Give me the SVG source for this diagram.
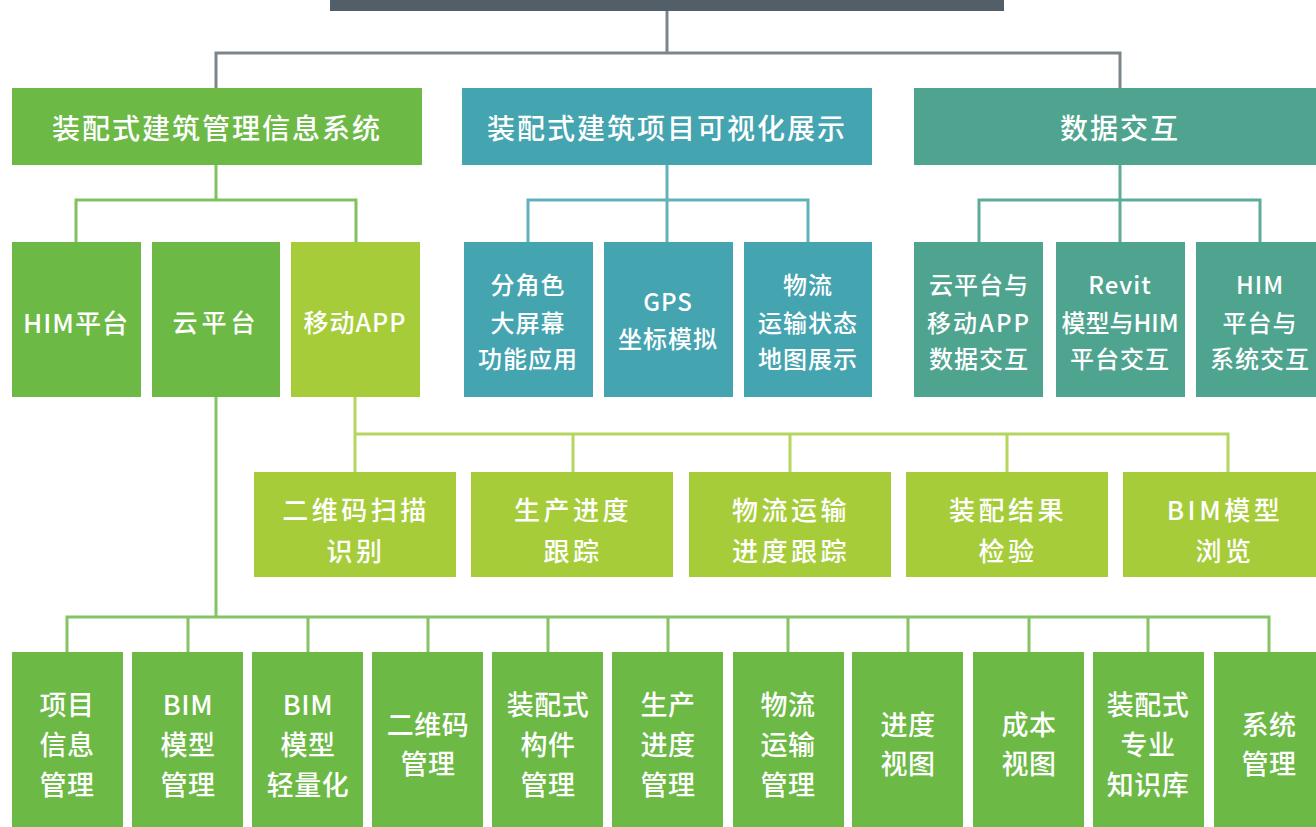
<svg xmlns="http://www.w3.org/2000/svg" width="1316" height="827" viewBox="0 0 1316 827">
<style>
.g{fill:#6cb945}.y{fill:#a6cd39}.t{fill:#44a4b0}.s{fill:#4ea48f}
text{font-family:"Noto Sans CJK SC","Noto Sans",sans-serif;font-weight:500;fill:#fff;text-anchor:middle;dominant-baseline:central}
.h{font-size:28px;letter-spacing:2px}
.m{font-size:24px;letter-spacing:1px}
.r3{font-size:26px;letter-spacing:3.5px}
.b{font-size:27px;letter-spacing:0.5px}
.c{fill:none;stroke-width:3}
</style>
<rect x="0" y="0" width="1316" height="827" fill="#fff"/>
<g id="connectors">
<path class="c" stroke="#7b858c" d="M667 11V53M216 88V53H1120V88"/>
<path class="c" stroke="#80c160" d="M216 165V200M76 242V200H356V242"/>
<path class="c" stroke="#62b2bc" d="M667 165V242M528 242V200H808V242"/>
<path class="c" stroke="#5eab97" d="M1120 165V242M979 242V200H1260V242"/>
<path class="c" stroke="#b6d55e" d="M355 397V472M355 434H1228V472M573 434V472M790 434V472M1007 434V472"/>
<path class="c" stroke="#84c366" d="M216 397V617M67 652V617H1269V652M188 617V652M308 617V652M428 617V652M548 617V652M668 617V652M788 617V652M908 617V652M1029 617V652M1148 617V652"/>
</g>
<g id="root"><rect x="330" y="0" width="674" height="11" fill="#525f68"/></g>
<g id="n1"><rect class="g" x="12" y="88" width="410" height="77"/><text class="h" x="217" y="127">装配式建筑管理信息系统</text></g>
<g id="n2"><rect class="t" x="462" y="88" width="410" height="77"/><text class="h" x="667" y="127">装配式建筑项目可视化展示</text></g>
<g id="n3"><rect class="s" x="914" y="88" width="412" height="77"/><text class="h" x="1120" y="127">数据交互</text></g>
<g id="him"><rect class="g" x="12" y="242" width="129" height="155"/><text class="m" x="76" y="321" style="font-size:26px">HIM平台</text></g>
<g id="cloud"><rect class="g" x="152" y="242" width="128" height="155"/><text class="m" x="216" y="321" style="font-size:25px;letter-spacing:4px">云平台</text></g>
<g id="app"><rect class="y" x="291" y="242" width="129" height="155"/><text class="m" x="355" y="321" style="font-size:25px">移动APP</text></g>
<g id="t1"><rect class="t" x="464" y="242" width="129" height="155"/><text class="m" x="528" y="283">分角色</text><text class="m" x="528" y="321">大屏幕</text><text class="m" x="528" y="357">功能应用</text></g>
<g id="t2"><rect class="t" x="604" y="242" width="129" height="155"/><text class="m" x="668" y="300">GPS</text><text class="m" x="668" y="337">坐标模拟</text></g>
<g id="t3"><rect class="t" x="744" y="242" width="128" height="155"/><text class="m" x="808" y="283">物流</text><text class="m" x="808" y="321">运输状态</text><text class="m" x="808" y="357">地图展示</text></g>
<g id="d1"><rect class="s" x="914" y="242" width="129" height="155"/><text class="m" x="979" y="283">云平台与</text><text class="m" x="979" y="321" style="letter-spacing:2px">移动APP</text><text class="m" x="979" y="357">数据交互</text></g>
<g id="d2"><rect class="s" x="1056" y="242" width="129" height="155"/><text class="m" x="1120" y="283">Revit</text><text class="m" x="1120" y="321" style="letter-spacing:0">模型与HIM</text><text class="m" x="1120" y="357">平台交互</text></g>
<g id="d3"><rect class="s" x="1196" y="242" width="129" height="155"/><text class="m" x="1260" y="283">HIM</text><text class="m" x="1260" y="321">平台与</text><text class="m" x="1260" y="357">系统交互</text></g>
<g id="a1"><rect class="y" x="254" y="472" width="202" height="105"/><text class="r3" x="356" y="508">二维码扫描</text><text class="r3" x="356" y="549">识别</text></g>
<g id="a2"><rect class="y" x="471" y="472" width="202" height="105"/><text class="r3" x="573" y="508">生产进度</text><text class="r3" x="573" y="549">跟踪</text></g>
<g id="a3"><rect class="y" x="689" y="472" width="202" height="105"/><text class="r3" x="791" y="508">物流运输</text><text class="r3" x="791" y="549">进度跟踪</text></g>
<g id="a4"><rect class="y" x="906" y="472" width="202" height="105"/><text class="r3" x="1008" y="508">装配结果</text><text class="r3" x="1008" y="549">检验</text></g>
<g id="a5"><rect class="y" x="1123" y="472" width="202" height="105"/><text class="r3" x="1225" y="508">BIM模型</text><text class="r3" x="1225" y="549">浏览</text></g>
<g id="b1"><rect class="g" x="12" y="652" width="111" height="180"/><text class="b" x="67" y="703">项目</text><text class="b" x="67" y="743">信息</text><text class="b" x="67" y="783">管理</text></g>
<g id="b2"><rect class="g" x="132" y="652" width="111" height="180"/><text class="b" x="188" y="703">BIM</text><text class="b" x="188" y="743">模型</text><text class="b" x="188" y="783">管理</text></g>
<g id="b3"><rect class="g" x="252" y="652" width="111" height="180"/><text class="b" x="308" y="703">BIM</text><text class="b" x="308" y="743">模型</text><text class="b" x="308" y="783">轻量化</text></g>
<g id="b4"><rect class="g" x="372" y="652" width="111" height="180"/><text class="b" x="428" y="723">二维码</text><text class="b" x="428" y="762">管理</text></g>
<g id="b5"><rect class="g" x="492" y="652" width="111" height="180"/><text class="b" x="548" y="703">装配式</text><text class="b" x="548" y="743">构件</text><text class="b" x="548" y="783">管理</text></g>
<g id="b6"><rect class="g" x="612" y="652" width="111" height="180"/><text class="b" x="668" y="703">生产</text><text class="b" x="668" y="743">进度</text><text class="b" x="668" y="783">管理</text></g>
<g id="b7"><rect class="g" x="733" y="652" width="111" height="180"/><text class="b" x="788" y="703">物流</text><text class="b" x="788" y="743">运输</text><text class="b" x="788" y="783">管理</text></g>
<g id="b8"><rect class="g" x="852" y="652" width="111" height="180"/><text class="b" x="908" y="723">进度</text><text class="b" x="908" y="762">视图</text></g>
<g id="b9"><rect class="g" x="973" y="652" width="111" height="180"/><text class="b" x="1029" y="723">成本</text><text class="b" x="1029" y="762">视图</text></g>
<g id="b10"><rect class="g" x="1093" y="652" width="111" height="180"/><text class="b" x="1148" y="703">装配式</text><text class="b" x="1148" y="743">专业</text><text class="b" x="1148" y="783">知识库</text></g>
<g id="b11"><rect class="g" x="1214" y="652" width="111" height="180"/><text class="b" x="1269" y="723">系统</text><text class="b" x="1269" y="762">管理</text></g>
</svg>
